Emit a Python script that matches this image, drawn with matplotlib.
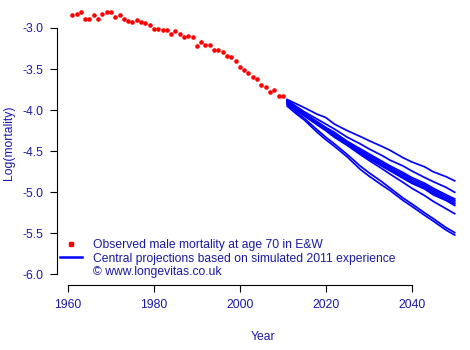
import matplotlib
matplotlib.use("Agg")
from matplotlib import pyplot as plt
from matplotlib.lines import Line2D

plt.rcParams['font.family'] = ['Liberation Sans', 'DejaVu Sans']

# observed log mortality, males aged 70, England & Wales
obs_years = list(range(1961, 2011))
obs_logmort = [-2.846, -2.833, -2.809, -2.886, -2.886, -2.846, -2.886, -2.825, -2.800, -2.810,
               -2.870, -2.837, -2.886, -2.910, -2.923, -2.898, -2.930, -2.943, -2.960, -3.008,
               -3.008, -3.030, -3.030, -3.077, -3.040, -3.077, -3.114, -3.100, -3.114, -3.224,
               -3.175, -3.210, -3.210, -3.264, -3.270, -3.290, -3.345, -3.358, -3.400, -3.480,
               -3.516, -3.553, -3.600, -3.626, -3.700, -3.724, -3.785, -3.760, -3.833, -3.833]

# central projections from simulated 2011 experience
proj_years = [2011, 2013, 2015, 2018, 2020, 2022, 2025, 2028, 2030,
              2033, 2035, 2038, 2040, 2043, 2045, 2048, 2050]
proj_runs = [
    [-3.87, -3.92, -3.97, -4.05, -4.09, -4.17, -4.25, -4.32, -4.37, -4.44, -4.49, -4.58, -4.63, -4.69, -4.75, -4.81, -4.86],
    [-3.88, -3.95, -4.02, -4.11, -4.17, -4.23, -4.33, -4.41, -4.47, -4.55, -4.61, -4.68, -4.74, -4.82, -4.87, -4.94, -5.00],
    [-3.89, -3.97, -4.04, -4.14, -4.21, -4.27, -4.38, -4.47, -4.53, -4.62, -4.68, -4.76, -4.82, -4.89, -4.95, -5.03, -5.08],
    [-3.90, -3.98, -4.05, -4.16, -4.22, -4.29, -4.39, -4.49, -4.55, -4.64, -4.70, -4.78, -4.84, -4.91, -4.97, -5.05, -5.10],
    [-3.89, -3.97, -4.05, -4.16, -4.23, -4.30, -4.40, -4.51, -4.57, -4.66, -4.72, -4.80, -4.86, -4.93, -4.99, -5.07, -5.12],
    [-3.91, -3.99, -4.06, -4.17, -4.24, -4.32, -4.42, -4.53, -4.59, -4.68, -4.74, -4.83, -4.89, -4.96, -5.03, -5.10, -5.16],
    [-3.92, -4.00, -4.07, -4.18, -4.25, -4.33, -4.43, -4.54, -4.61, -4.71, -4.78, -4.88, -4.95, -5.04, -5.11, -5.20, -5.26],
    [-3.90, -3.98, -4.05, -4.16, -4.23, -4.31, -4.41, -4.52, -4.58, -4.67, -4.73, -4.82, -4.88, -4.95, -5.01, -5.09, -5.14],
    [-3.93, -4.02, -4.10, -4.24, -4.33, -4.41, -4.54, -4.68, -4.76, -4.87, -4.95, -5.07, -5.14, -5.25, -5.32, -5.43, -5.49],
    [-3.95, -4.04, -4.12, -4.27, -4.36, -4.44, -4.57, -4.72, -4.80, -4.91, -4.98, -5.10, -5.17, -5.28, -5.35, -5.46, -5.52],
]

txt = '#1a1aa6'
fs = 8.7

fig = plt.figure(figsize=(4.7, 3.5), dpi=100)
ax = fig.add_axes([57/470, 65/350, 413/470, 284/350])

ax.plot(obs_years, obs_logmort, 'o', color='red', markersize=3.3, markeredgewidth=0)
for run in proj_runs:
    ax.plot(proj_years, run, color='blue', lw=1.25)

ax.set_xlim(1957.44, 2053.56)
ax.set_ylim(-6.128, -2.672)
ax.set_xticks([1960, 1980, 2000, 2020, 2040])
ax.set_yticks([-3.0, -3.5, -4.0, -4.5, -5.0, -5.5, -6.0])
ax.set_yticklabels(['-3.0', '-3.5', '-4.0', '-4.5', '-5.0', '-5.5', '-6.0'])

for s in ['top', 'right']:
    ax.spines[s].set_visible(False)
ax.spines['left'].set_bounds(-6.0, -3.0)
ax.spines['bottom'].set_bounds(1960, 2040)
ax.tick_params(direction='out', length=5, width=0.8, labelsize=fs, labelcolor=txt, pad=5)

ax.set_xlabel('Year', fontsize=fs, color=txt)
ax.set_ylabel('Log(mortality)', fontsize=fs, color=txt)
ax.xaxis.set_label_coords(0.5, -46/284)
ax.yaxis.set_label_coords(-42/413, 0.5)

handles = [Line2D([], [], ls='none', marker='s', color='red', markersize=3),
           Line2D([], [], color='blue', lw=1.8),
           Line2D([], [], ls='none')]
labels = ['Observed male mortality at age 70 in E&W',
          'Central projections based on simulated 2011 experience',
          '\u00a9 www.longevitas.co.uk']
leg = ax.legend(handles, labels, loc='lower left', bbox_to_anchor=(60/470, 72/350),
                bbox_transform=fig.transFigure, frameon=False, fontsize=fs,
                handlelength=1.8, handletextpad=0.95, labelspacing=0.12,
                borderpad=0, borderaxespad=0)
for t in leg.get_texts():
    t.set_color(txt)

fig.savefig('out.png', dpi=100)
